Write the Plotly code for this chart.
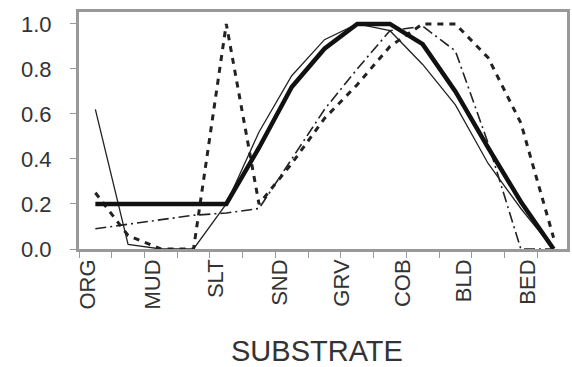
import plotly.graph_objects as go

# 15 positions: 8 substrate classes and the midpoints between them
positions = list(range(15))
substrates = ["ORG", "MUD", "SLT", "SND", "GRV", "COB", "BLD", "BED"]
substrate_pos = [-0.22, 1.75, 3.69, 5.63, 7.52, 9.40, 11.27, 13.22]

thick_solid = [0.20, 0.20, 0.20, 0.20, 0.20, 0.45, 0.72, 0.89, 1.00, 1.00, 0.91, 0.70, 0.45, 0.21, 0.00]
thin_solid = [0.62, 0.02, 0.00, 0.00, 0.20, 0.52, 0.77, 0.93, 1.00, 0.97, 0.82, 0.64, 0.38, 0.18, 0.00]
dashed = [0.25, 0.06, 0.00, 0.00, 1.00, 0.20, 0.38, 0.58, 0.73, 0.90, 1.00, 1.00, 0.85, 0.56, 0.05]
dashdot = [0.09, 0.11, 0.13, 0.15, 0.16, 0.18, 0.40, 0.62, 0.80, 0.97, 0.99, 0.88, 0.47, 0.00, 0.00]

y_ticks = [0.0, 0.2, 0.4, 0.6, 0.8, 1.0]
boundaries = [p - 0.5 for p in positions]

fig = go.Figure()
fig.add_trace(go.Scatter(x=positions, y=dashdot, mode="lines",
                         line=dict(color="#222", width=1.6, dash="11px,4px,2px,4px")))
fig.add_trace(go.Scatter(x=positions, y=dashed, mode="lines",
                         line=dict(color="#222", width=3, dash="6px,6px")))
fig.add_trace(go.Scatter(x=positions, y=thin_solid, mode="lines",
                         line=dict(color="#222", width=1.3)))
fig.add_trace(go.Scatter(x=positions, y=thick_solid, mode="lines",
                         line=dict(color="#111", width=4.5)))
# invisible trace to activate the label axis
fig.add_trace(go.Scatter(x=substrate_pos, y=[None] * len(substrate_pos), xaxis="x2",
                         mode="lines", showlegend=False, hoverinfo="skip"))

fig.update_layout(
    width=572, height=367,
    margin=dict(l=79, r=2, t=12, b=118),
    paper_bgcolor="white", plot_bgcolor="white",
    showlegend=False,
    font=dict(family="Liberation Sans, Arial, sans-serif", color="#333"),
    xaxis=dict(range=[-0.5, 14.41], tickvals=boundaries, ticktext=[""] * len(boundaries),
               ticks="outside", ticklen=6, tickcolor="#999", tickwidth=1,
               showgrid=False, zeroline=False, showline=True, linecolor="#999", linewidth=3,
               mirror=True),
    xaxis2=dict(range=[-0.5, 14.41], overlaying="x", side="bottom", anchor="y",
                tickvals=substrate_pos, ticktext=substrates, tickangle=-90,
                ticks="", showgrid=False, zeroline=False, showline=False,
                tickfont=dict(size=22, color="#333"), ticklabelstandoff=5),
    yaxis=dict(range=[0, 1.053], tickvals=y_ticks, tickformat=".1f",
               ticks="outside", ticklen=6, tickcolor="#999", tickwidth=1,
               showgrid=False, zeroline=False, showline=True, linecolor="#999", linewidth=3,
               mirror=True, tickfont=dict(size=22, color="#333"), ticklabelstandoff=14),
    annotations=[dict(text="SUBSTRATE", xref="paper", yref="paper", x=0.487, y=-0.505,
                      xanchor="center", yanchor="bottom", showarrow=False,
                      font=dict(size=29, color="#333"))],
)

fig.write_html("out.html")
